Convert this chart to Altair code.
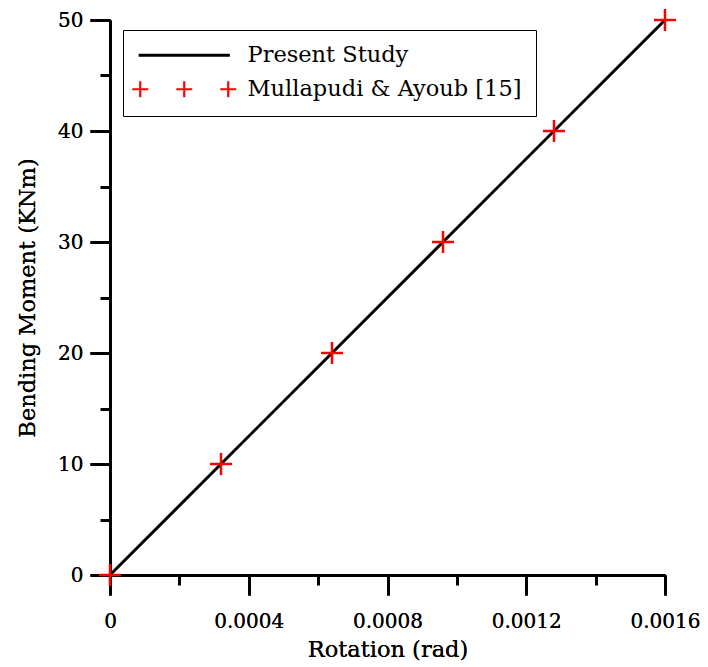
import altair as alt
import pandas as pd

# ---- data ----
rotation = [0, 0.00032, 0.00064, 0.00096, 0.00128, 0.0016]
moment = [0, 10, 20, 30, 40, 50]
study_rotation = [0, 0.0016]
study_moment = [0, 50]
series = ["Present Study", "Mullapudi & Ayoub [15]"]
x_major = [0, 0.0004, 0.0008, 0.0012, 0.0016]
x_minor = [0.0002, 0.0006, 0.001, 0.0014]
y_major = [0, 10, 20, 30, 40, 50]
y_minor = [5, 15, 25, 35, 45]

line_df = pd.DataFrame({"x": study_rotation, "y": study_moment, "s": series[0]})
pt_df = pd.DataFrame({"x": rotation, "y": moment, "s": series[1]})

FONT = "DejaVu Serif"
FS = 20
LFS = 22.5
TFS = 22.5
PLUS = "M-1,0H1M0,-1V1"
LEG_LINE = "M-5.7,0H5.7"
LEG_PLUS = "M-6.5,0H-4.5M-5.5,-1V1M-1,0H1M0,-1V1M4.5,0H6.5M5.5,-1V1"

xscale = alt.Scale(domain=[0, 0.0016], nice=False, zero=False)
yscale = alt.Scale(domain=[0, 50], nice=False, zero=False)

legend = alt.Legend(
    title=None, orient="none", legendX=13, legendY=10,
    padding=14, rowPadding=9, symbolSize=256, symbolOffset=36, labelOffset=52,
    labelFont=FONT, labelFontSize=LFS, labelLimit=0, labelColor="black",
    strokeColor="black", fillColor="white",
    symbolType=alt.ExprRef(expr=f"datum.value === 'Present Study' ? '{LEG_LINE}' : '{LEG_PLUS}'"),
    symbolStrokeColor=alt.ExprRef(expr="datum.value === 'Present Study' ? 'black' : 'red'"),
    symbolFillColor="transparent",
    symbolStrokeWidth=alt.ExprRef(expr="datum.value === 'Present Study' ? 3 : 2.2"),
    symbolOpacity=1,
)
color = alt.Color("s:N", scale=alt.Scale(domain=series, range=["black", "red"]), legend=legend)

x_main_axis = alt.Axis(values=x_major, tickSize=20, labelPadding=16, format="~g", labelFlush=False,
                       title="Rotation (rad)", titlePadding=7, orient="bottom")
y_main_axis = alt.Axis(values=y_major, tickSize=20, labelPadding=7, labelFlush=False,
                       title="Bending Moment (KNm)", titlePadding=18, orient="left")

line = alt.Chart(line_df).mark_line(strokeWidth=3).encode(
    x=alt.X("x:Q", scale=xscale, axis=x_main_axis),
    y=alt.Y("y:Q", scale=yscale, axis=y_main_axis),
    color=color,
)
points = alt.Chart(pt_df).mark_point(shape=PLUS, size=484, filled=False, strokeWidth=2.5, opacity=1).encode(
    x=alt.X("x:Q", scale=xscale, axis=x_main_axis),
    y=alt.Y("y:Q", scale=yscale, axis=y_main_axis),
    color=color,
)
minor = alt.Chart(pt_df).mark_point(opacity=0).encode(
    x=alt.X("x:Q", scale=xscale, axis=alt.Axis(values=x_minor, tickSize=10, labels=False,
                                               domain=False, title=None, orient="bottom")),
    y=alt.Y("y:Q", scale=yscale, axis=alt.Axis(values=y_minor, tickSize=10, labels=False,
                                               domain=False, title=None, orient="left")),
)

chart = alt.layer(line, minor, points).resolve_axis(x="independent", y="independent").properties(
    width=555, height=555,
    autosize=alt.AutoSizeParams(type="none"),
    padding={"left": 102, "top": 12, "right": 35, "bottom": 92},
).configure_view(stroke=None).configure_axis(
    domainColor="black", domainWidth=3, tickColor="black", tickWidth=3, grid=False,
    labelFont=FONT, labelFontSize=FS, labelColor="black",
    titleFont=FONT, titleFontSize=TFS, titleFontWeight="normal", titleColor="black",
)

chart.save("out.html", embed_options={"renderer": "svg", "actions": False})
